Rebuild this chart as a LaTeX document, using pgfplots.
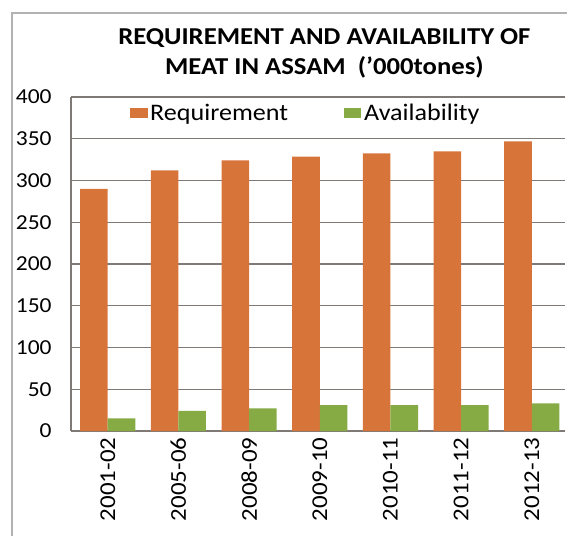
\documentclass[border=0pt]{standalone}
\usepackage{fontspec}
\setmainfont{Carlito}[FakeStretch=1.1]
\usepackage{pgfplots}
\pgfplotsset{compat=1.18}
\definecolor{reqc}{RGB}{214,116,58}
\definecolor{avac}{RGB}{134,171,68}
\definecolor{gridc}{RGB}{128,122,118}
\begin{document}
\begin{tikzpicture}
\useasboundingbox (-53.25pt,-78.75pt) rectangle (375.75pt,323.25pt);
\draw[gray!60, line width=0.8pt] (-44.25pt,-80pt) -- (-44.25pt,313.5pt) -- (372pt,313.5pt);
\begin{axis}[
  at={(0pt,0pt)}, anchor=south west,
  scale only axis, width=370.5pt, height=250.5pt,
  xmin=-0.52, xmax=6.47, ymin=0, ymax=400,
  ytick={0,50,...,400},
  xtick={0,...,6},
  xticklabels={2001-02,2005-06,2008-09,2009-10,2010-11,2011-12,2012-13},
  /pgf/number format/assume math mode=true,
  yticklabel style={font=\fontsize{16}{18}\selectfont, xshift=-11pt},
  xticklabel style={font=\fontsize{17}{19}\selectfont, yshift=-1.5pt, rotate=90, anchor=east},
  major tick length=0pt,
  axis x line*=bottom, axis y line*=left,
  axis line style={gridc, line width=0.8pt, -},
  ymajorgrids, grid style={gridc, line width=0.8pt},
  legend style={at={(0.476,0.952)}, anchor=center, draw=none, fill=none,
    legend columns=2, font=\fontsize{17.8}{20}\selectfont,
    /tikz/every even column/.append style={column sep=40pt}},
  legend image code/.code={\fill[#1] (0pt,-3.8pt) rectangle (13pt,4pt);},
]
\addplot[ybar, bar width=0.39, bar shift=-0.195, fill=reqc, draw=none] coordinates {
(0,290) (1,312) (2,324) (3,328.5) (4,332.5) (5,335) (6,347)};
\addlegendentry{Requirement}
\addplot[ybar, bar width=0.39, bar shift=0.195, fill=avac, draw=none] coordinates {
(0,15) (1,24) (2,27) (3,31) (4,31) (5,31) (6,33)};
\addlegendentry{Availability}
\end{axis}
\node[anchor=base, font=\fontsize{18.2}{20}\selectfont\bfseries] at (190pt,289.5pt) {REQUIREMENT AND AVAILABILITY OF};
\node[anchor=base, font=\fontsize{18.2}{20}\selectfont\bfseries] at (190pt,267pt) {MEAT IN ASSAM~~('000tones)};
\end{tikzpicture}
\end{document}
